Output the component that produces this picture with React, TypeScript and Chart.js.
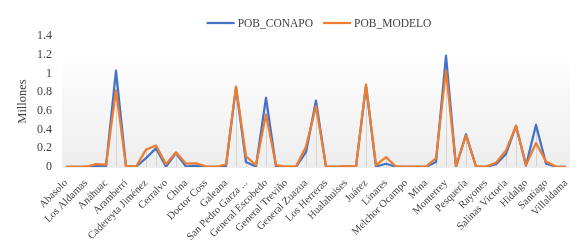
import React, { useEffect, useRef } from "react";
import { Chart, registerables } from "chart.js";

Chart.register(...registerables);

const municipios = [
  "Abasolo", "Agualeguas", "Los Aldamas", "Allende", "Anáhuac", "Apodaca", "Aramberri", "Bustamante",
  "Cadereyta Jiménez", "El Carmen", "Cerralvo", "Ciénega de Flores", "China", "Doctor Arroyo", "Doctor Coss",
  "Doctor González", "Galeana", "García", "San Pedro Garza ...", "General Bravo", "General Escobedo",
  "General Terán", "General Treviño", "General Zaragoza", "General Zuazua", "Guadalupe", "Los Herreras",
  "Higueras", "Hualahuises", "Iturbide", "Juárez", "Lampazos de Naranjo", "Linares", "Marín",
  "Melchor Ocampo", "Mier y Noriega", "Mina", "Montemorelos", "Monterrey", "Parás", "Pesquería",
  "Los Ramones", "Rayones", "Sabinas Hidalgo", "Salinas Victoria", "San Nicolás de los Garza", "Hidalgo",
  "Santa Catarina", "Santiago", "Vallecillo", "Villaldama",
];

const pobConapo = [
  0.002, 0.001, 0.002, 0.012, 0.003, 1.03, 0.006, 0.002, 0.095, 0.2,
  0.004, 0.15, 0.004, 0.015, 0.002, 0.001, 0.01, 0.85, 0.053, 0.005,
  0.74, 0.004, 0.002, 0.002, 0.158, 0.71, 0.002, 0.002, 0.003, 0.005,
  0.87, 0.005, 0.035, 0.003, 0.002, 0.002, 0.002, 0.053, 1.19, 0.003,
  0.35, 0.003, 0.002, 0.03, 0.14, 0.44, 0.015, 0.45, 0.035, 0.004, 0.002,
];

const pobModelo = [
  0.002, 0.001, 0.003, 0.03, 0.025, 0.82, 0.01, 0.004, 0.186, 0.23,
  0.03, 0.157, 0.035, 0.04, 0.007, 0.002, 0.027, 0.86, 0.113, 0.02,
  0.56, 0.02, 0.005, 0.005, 0.218, 0.65, 0.004, 0.004, 0.01, 0.005,
  0.88, 0.02, 0.105, 0.004, 0.003, 0.003, 0.004, 0.095, 1.03, 0.008,
  0.335, 0.01, 0.005, 0.045, 0.176, 0.44, 0.02, 0.257, 0.06, 0.005, 0.002,
];

const seriesNames = ["POB_CONAPO", "POB_MODELO"];
const seriesColors = ["#4472C4", "#ED7D31"];
const yAxisTitle = "Millones";
const yMin = 0;
const yMax = 1.4;
const yStep = 0.2;

const FONT = "'Liberation Serif', 'Times New Roman', serif";
const TEXT = "#404040";

export default function App() {
  const ref = useRef<HTMLCanvasElement>(null);

  useEffect(() => {
    if (!ref.current) return;

    const bgPlugin = {
      id: "bgDrop",
      beforeDatasetsDraw(chart: any) {
        const { ctx, chartArea: a, scales } = chart;
        const y = scales.y;
        const x = scales.x;
        const top = y.getPixelForValue(1.25);
        const bottom = y.getPixelForValue(0) + 1;
        ctx.save();
        const g = ctx.createLinearGradient(0, top, 0, bottom);
        g.addColorStop(0, "#ffffff");
        g.addColorStop(1, "#ededed");
        ctx.fillStyle = g;
        ctx.fillRect(a.left - 4, top, a.right - a.left + 8, bottom - top);
        ctx.strokeStyle = "#d4d4d4";
        ctx.lineWidth = 1;
        const y0 = y.getPixelForValue(0);
        municipios.forEach((_, i) => {
          const v = Math.max(pobConapo[i], pobModelo[i]);
          const px = Math.round(x.getPixelForValue(i)) + 0.5;
          ctx.beginPath();
          ctx.moveTo(px, y.getPixelForValue(v));
          ctx.lineTo(px, y0);
          ctx.stroke();
        });
        ctx.restore();
      },
    };

    const legendPlugin = {
      id: "customLegend",
      afterDraw(chart: any) {
        const { ctx, chartArea: a } = chart;
        ctx.save();
        ctx.font = `11.5px ${FONT}`;
        ctx.textBaseline = "middle";
        const lineW = 28;
        const gapLT = 3;
        const gapItems = 10;
        const widths = seriesNames.map((n) => lineW + gapLT + ctx.measureText(n).width);
        const total = widths.reduce((s, w) => s + w, 0) + gapItems * (widths.length - 1);
        let cx = (a.left + a.right) / 2 + 3 - total / 2;
        const cy = 23;
        seriesNames.forEach((n, i) => {
          ctx.strokeStyle = seriesColors[i];
          ctx.lineWidth = 2.25;
          ctx.beginPath();
          ctx.moveTo(cx, cy);
          ctx.lineTo(cx + lineW, cy);
          ctx.stroke();
          ctx.fillStyle = TEXT;
          ctx.fillText(n, cx + lineW + gapLT, cy + 1);
          cx += widths[i] + gapItems;
        });
        ctx.restore();
      },
    };

    const chart = new Chart(ref.current, {
      type: "line",
      data: {
        labels: municipios,
        datasets: [
          {
            label: seriesNames[0],
            data: pobConapo,
            borderColor: seriesColors[0],
            backgroundColor: seriesColors[0],
            borderWidth: 2.25,
            borderJoinStyle: "round",
            pointRadius: 0,
            tension: 0,
            fill: false,
            order: 1,
          },
          {
            label: seriesNames[1],
            data: pobModelo,
            borderColor: seriesColors[1],
            backgroundColor: seriesColors[1],
            borderWidth: 2.25,
            borderJoinStyle: "round",
            pointRadius: 0,
            tension: 0,
            fill: false,
            order: 0,
          },
        ],
      },
      options: {
        animation: false,
        responsive: false,
        layout: { padding: { top: 36, right: 22, bottom: 0, left: 0 } },
        plugins: {
          legend: { display: false },
          tooltip: { enabled: false },
        },
        scales: {
          x: {
            offset: false,
            border: { display: false },
            grid: { display: false, drawTicks: false },
            afterFit: (scale: any) => {
              scale.height = 79;
            },
            ticks: {
              autoSkip: false,
              maxRotation: 45,
              minRotation: 45,
              padding: 10,
              color: TEXT,
              font: { family: FONT, size: 10.5 },
              callback: (_v: any, i: number) => (i % 2 === 0 ? municipios[i] : ""),
            },
          },
          y: {
            min: yMin,
            max: yMax,
            border: { display: false },
            grid: { display: false, drawTicks: false },
            afterFit: (scale: any) => {
              scale.width = 66;
            },
            ticks: {
              stepSize: yStep,
              padding: 14,
              color: TEXT,
              font: { family: FONT, size: 12 },
              callback: (v: any) => String(+Number(v).toFixed(1)),
            },
            title: {
              display: true,
              text: yAxisTitle,
              color: TEXT,
              font: { family: FONT, size: 12.5 },
              padding: { top: 15, bottom: 0 },
            },
          },
        },
      },
      plugins: [bgPlugin, legendPlugin],
    });

    return () => chart.destroy();
  }, []);

  return (
    <div style={{ position: "fixed", left: 0, top: 0, width: 588, height: 246, background: "#fff" }}>
      <canvas ref={ref} width={588} height={246} style={{ display: "block" }} />
    </div>
  );
}
